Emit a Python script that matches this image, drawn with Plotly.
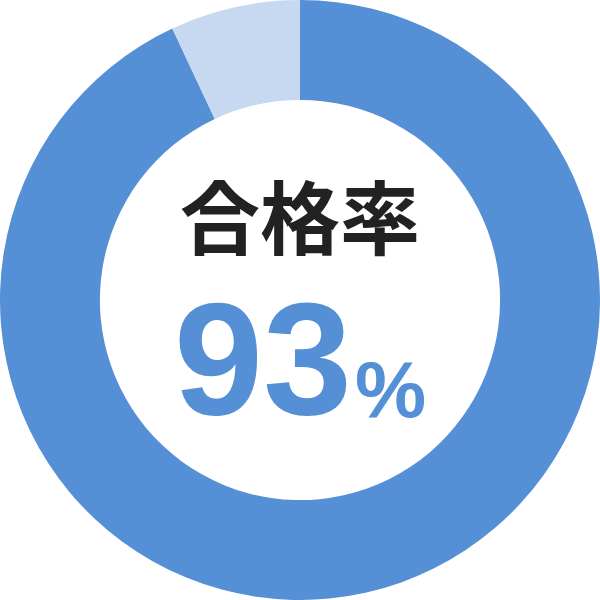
import plotly.graph_objects as go

labels = ['合格', '不合格']
values = [93, 7]
colors = ['#558FD6', '#C6D9F1']
title_text = '合格率'
rate_text = '93'
unit_text = '%'

fig = go.Figure(go.Pie(
    labels=labels,
    values=values,
    hole=0.667,
    sort=False,
    direction='clockwise',
    rotation=0,
    marker=dict(colors=colors, line=dict(width=0)),
    textinfo='none',
    hoverinfo='label+percent',
    showlegend=False,
))

fig.add_annotation(
    x=0.5, y=1 - 213 / 600, xref='paper', yref='paper',
    text='<b>' + title_text + '</b>', showarrow=False,
    font=dict(family='Noto Sans CJK JP', size=80, color='#222222'),
)
fig.add_annotation(
    x=263 / 600, y=1 - 450 / 600, xref='paper', yref='paper',
    xanchor='center', yanchor='bottom',
    text='<b>' + rate_text + '</b>', showarrow=False,
    font=dict(family='Liberation Sans', size=160, color='#558FD6'),
)
fig.add_annotation(
    x=391 / 600, y=1 - 436 / 600, xref='paper', yref='paper',
    xanchor='center', yanchor='bottom',
    text='<b>' + unit_text + '</b>', showarrow=False,
    font=dict(family='Liberation Sans', size=80, color='#558FD6'),
)

fig.update_layout(
    width=600, height=600,
    margin=dict(l=0, r=0, t=0, b=0),
    paper_bgcolor='white',
    plot_bgcolor='white',
)

fig.write_html('out.html', config={'displayModeBar': False},
               post_script="document.body.style.margin='0';")
